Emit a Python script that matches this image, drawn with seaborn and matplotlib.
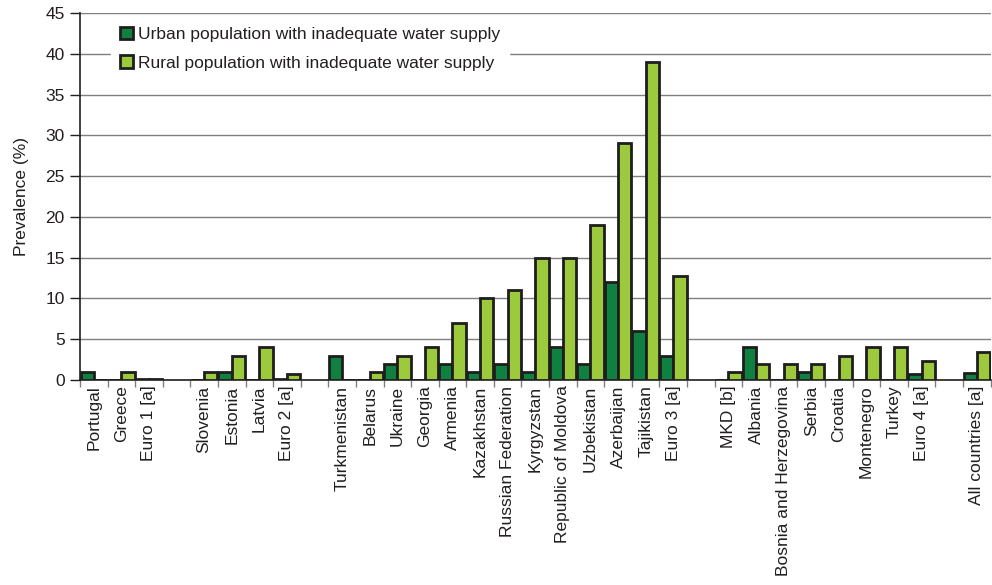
import numpy as np
import pandas as pd
import matplotlib
matplotlib.use("Agg")
import matplotlib.pyplot as plt
from matplotlib.patches import Patch
import seaborn as sns

# Country groups; empty strings separate the groups on the axis
countries = [
    "Portugal", "Greece", "Euro 1 [a]", "",
    "Slovenia", "Estonia", "Latvia", "Euro 2 [a]", "",
    "Turkmenistan", "Belarus", "Ukraine", "Georgia", "Armenia", "Kazakhstan",
    "Russian Federation", "Kyrgyzstan", "Republic of Moldova", "Uzbekistan",
    "Azerbaijan", "Tajikistan", "Euro 3 [a]", "",
    "MKD [b]", "Albania", "Bosnia and Herzegovina", "Serbia", "Croatia",
    "Montenegro", "Turkey", "Euro 4 [a]", "",
    "All countries [a]",
]

urban = [1, 0, 0.15, None,
         0, 1, 0, 0.15, None,
         3, 0, 2, 0, 2, 1, 2, 1, 4, 2, 12, 6, 3, None,
         0, 4, 0, 1, 0, 0, 0, 0.7, None,
         0.8]
rural = [0, 1, 0.15, None,
         1, 3, 4, 0.7, None,
         0, 1, 3, 4, 7, 10, 11, 15, 15, 19, 29, 39, 12.8, None,
         1, 2, 2, 2, 3, 4, 4, 2.3, None,
         3.4]

series = ["Urban population with inadequate water supply",
          "Rural population with inadequate water supply"]
colors = ["#0f8040", "#9cca3c"]

# unique keys so that the empty separator slots stay distinct
keys = [c if c else " " * (i + 1) for i, c in enumerate(countries)]

rows = []
for k, u, r in zip(keys, urban, rural):
    if u is not None:
        rows.append((k, series[0], u))
        rows.append((k, series[1], r))
df = pd.DataFrame(rows, columns=["country", "series", "value"])

sns.set_style("white")
plt.rcParams["font.family"] = ["Liberation Sans", "DejaVu Sans"]

fig = plt.figure(figsize=(9.92, 5.85), dpi=100)
ax = fig.add_axes([0.0806, 0.3504, 0.918, 0.6274])

sns.barplot(data=df, x="country", y="value", hue="series",
            order=keys, hue_order=series, palette=colors, saturation=1,
            edgecolor="#1e1e1e", linewidth=2.0, width=0.96,
            errorbar=None, ax=ax, zorder=3)

n = len(keys)
ax.set_xlim(-0.5, n - 0.5)
ax.set_ylim(0, 45)
ax.set_yticks(np.arange(0, 46, 5))
ax.yaxis.grid(True, color="#7f7f7f", linewidth=1.0, zorder=0)
ax.set_axisbelow(True)

ax.set_xticks(range(n))
ax.set_xticklabels(countries, rotation=90, fontsize=12.5, color="#231f20")
ax.set_xticks(np.arange(-0.5, n, 1.0), minor=True)
ax.tick_params(axis="x", which="major", length=0, pad=4)
ax.tick_params(axis="x", which="minor", length=5, width=1, color="#808080",
               bottom=True)
ax.tick_params(axis="y", length=7, width=1, color="#231f20",
               labelsize=12.5, labelcolor="#231f20", left=True, pad=4)

for s in ["top", "right"]:
    ax.spines[s].set_visible(False)
ax.spines["left"].set_color("#231f20")
ax.spines["bottom"].set_color("#231f20")
ax.spines["left"].set_linewidth(1.2)
ax.spines["bottom"].set_linewidth(1.2)

ax.set_xlabel("")
ax.set_ylabel("Prevalence (%)", fontsize=12.5, color="#231f20", labelpad=12)

handles = [Patch(facecolor=c, edgecolor="#1e1e1e", linewidth=2.0) for c in colors]
leg = ax.legend(handles, series, loc="upper left",
                bbox_to_anchor=(0.025, 1.01), fontsize=12.5,
                frameon=True, fancybox=False, framealpha=1,
                handlelength=0.75, handleheight=0.75, handletextpad=0.3,
                labelspacing=0.75, borderpad=0.5)
leg.get_frame().set_edgecolor("white")
leg.get_frame().set_facecolor("white")
for t in leg.get_texts():
    t.set_color("#231f20")

fig.savefig("out.png", dpi=100)
